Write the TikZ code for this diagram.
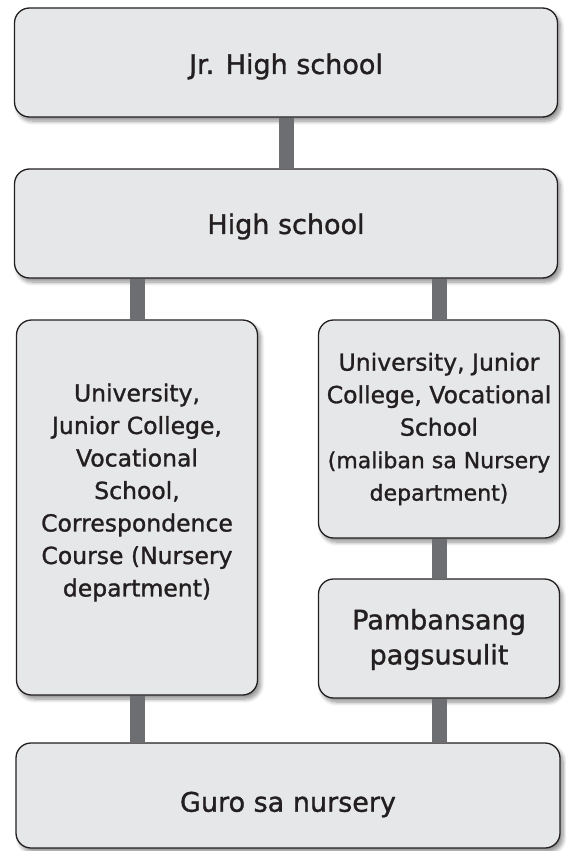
\documentclass[tikz,border=0pt]{standalone}
\usepackage{fontspec}
\setmainfont{DejaVu Sans}[FakeBold=1.2]
\usetikzlibrary{shadows.blur}
\definecolor{boxfill}{HTML}{E6E7E8}
\definecolor{boxline}{HTML}{231F20}
\definecolor{connc}{HTML}{6D6E71}
\begin{document}
\begin{tikzpicture}[x=1pt,y=-1pt,
  box/.style={draw=boxline, line width=1.3pt, fill=boxfill, rounded corners=15pt, inner sep=0pt,
    blur shadow={shadow xshift=3pt, shadow yshift=-4pt, shadow blur radius=4pt, shadow blur steps=8, shadow opacity=45}},
  lbl/.style={text=boxline, align=center, inner sep=0pt},
  bigtxt/.style={font=\fontsize{27}{35}\selectfont},
  smalltxt/.style={font=\fontsize{23.5}{32.5}\selectfont},
  conn/.style={draw=connc, line width=15pt, line cap=butt}]
\useasboundingbox (0,0) rectangle (565,851);
\node[box, minimum width=543pt, minimum height=109pt] (jhs) at (286,62.5) {};
\node[box, minimum width=543pt, minimum height=109pt] (hs) at (286,223.5) {};
\node[box, minimum width=241pt, minimum height=375pt] (left) at (137,507.5) {};
\node[box, minimum width=241pt, minimum height=218pt] (right) at (439,429) {};
\node[box, minimum width=241pt, minimum height=119pt] (pamb) at (439,638.5) {};
\node[box, minimum width=544pt, minimum height=105pt] (guro) at (288,795.5) {};
\node[lbl, bigtxt] (jhst) at ([yshift=-4pt]jhs.center) {Jr. High school};
\node[lbl, bigtxt] (hst) at ([yshift=-3pt]hs.center) {High school};
\node[lbl, smalltxt] (leftt) at ([yshift=15pt]left.center)
  {University,\\Junior College,\\Vocational\\School,\\Correspondence\\Course (Nursery\\department)};
\node[lbl, smalltxt] (rightt) at ([yshift=0pt]right.center)
  {University, Junior\\College, Vocational\\School\\{\fontsize{22}{32.5}\selectfont(maliban sa Nursery}\\{\fontsize{22}{32.5}\selectfont department)}};
\node[lbl, bigtxt] (pambt) at ([yshift=-1pt]pamb.center) {Pambansang\\pagsusulit};
\node[lbl, bigtxt] (gurot) at ([yshift=-9pt]guro.center) {Guro sa nursery};
\draw[conn] (jhs.south) -- (hs.north);
\draw[conn] (left.north |- hs.south) -- (left.north);
\draw[conn] (right.north |- hs.south) -- (right.north);
\draw[conn] (right.south) -- (pamb.north);
\draw[conn] (left.south) -- (left.south |- guro.north);
\draw[conn] (pamb.south) -- (pamb.south |- guro.north);
\end{tikzpicture}
\end{document}
